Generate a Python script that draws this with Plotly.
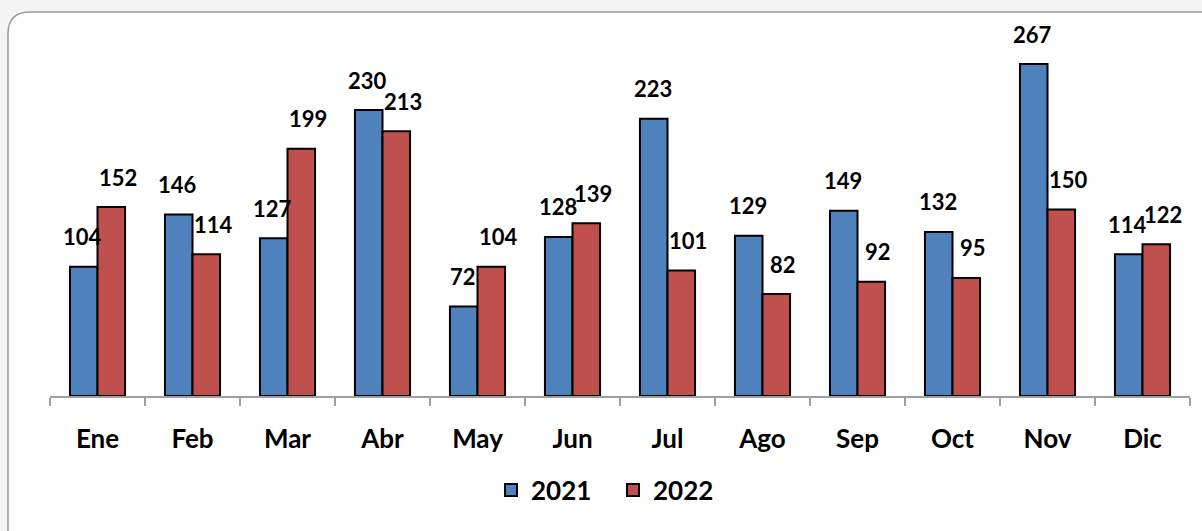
import plotly.graph_objects as go

months = ["Ene", "Feb", "Mar", "Abr", "May", "Jun", "Jul", "Ago", "Sep", "Oct", "Nov", "Dic"]
v2021 = [104, 146, 127, 230, 72, 128, 223, 129, 149, 132, 267, 114]
v2022 = [152, 114, 199, 213, 104, 139, 101, 82, 92, 95, 150, 122]

FONT = "Lato"
L, R, T, B = 50, 12, 20, 135
W, H = 1202, 531
pw, ph = W - L - R, H - T - B
BAR_PX = pw / len(months) * 0.58 / 2  # width of one bar in px

def px(x):
    return (x - L) / pw

def py(y):
    return (H - B - y) / ph

fig = go.Figure()
series = [("2021", v2021, "#4F81BD", -1), ("2022", v2022, "#C0504D", 1)]
for name, vals, col, side in series:
    fig.add_trace(go.Bar(name=name, x=months, y=vals,
                         marker=dict(color=col, line=dict(color="black", width=2)),
                         cliponaxis=False, hoverinfo="skip"))
    for m, v in zip(months, vals):
        fig.add_annotation(x=m, y=v, text=str(v), showarrow=False, borderpad=0,
                           xshift=side * (BAR_PX / 2 + 4) + 3, yshift=30, yanchor="middle",
                           font=dict(family=FONT, size=22, color="black", weight="bold"))

r = 22
x0, y0, x1, y1 = 8, 12, 1230, 560
path = (f"M {px(x0)},{py(y1)} L {px(x0)},{py(y0 + r)} "
        f"Q {px(x0)},{py(y0)} {px(x0 + r)},{py(y0)} "
        f"L {px(x1)},{py(y0)} L {px(x1)},{py(y1)} Z")

fig.update_layout(
    width=W, height=H,
    margin=dict(l=L, r=R, t=T, b=B, autoexpand=False),
    paper_bgcolor="#f4f4f4", plot_bgcolor="rgba(0,0,0,0)",
    barmode="group", bargap=0.42, bargroupgap=0,
    font=dict(family=FONT, color="black"),
    shapes=[dict(type="path", path=path, xref="paper", yref="paper",
                 fillcolor="white", line=dict(color="#9a9a9a", width=1.5), layer="below")],
    legend=dict(orientation="h", x=px(491), xanchor="left", y=py(490), yanchor="middle",
                font=dict(family=FONT, size=26, color="black", weight="bold"),
                bgcolor="rgba(0,0,0,0)", itemwidth=30, entrywidth=77,
                entrywidthmode="pixels", traceorder="normal"),
    showlegend=True,
    xaxis=dict(showline=True, linecolor="#a0a0a0", linewidth=1.5, ticks="outside",
               tickson="boundaries", ticklen=8, tickcolor="#a0a0a0", tickwidth=1.5,
               tickfont=dict(family=FONT, size=26, color="black", weight="bold"),
               ticklabelstandoff=19, showgrid=False, automargin=False),
    yaxis=dict(range=[0, ph / 1.243], visible=False, showgrid=False),
)
fig.write_html("out.html", config={"displayModeBar": False},
               post_script="document.body.style.margin='0px';document.body.style.overflow='hidden';document.body.style.background='#f4f4f4';")
